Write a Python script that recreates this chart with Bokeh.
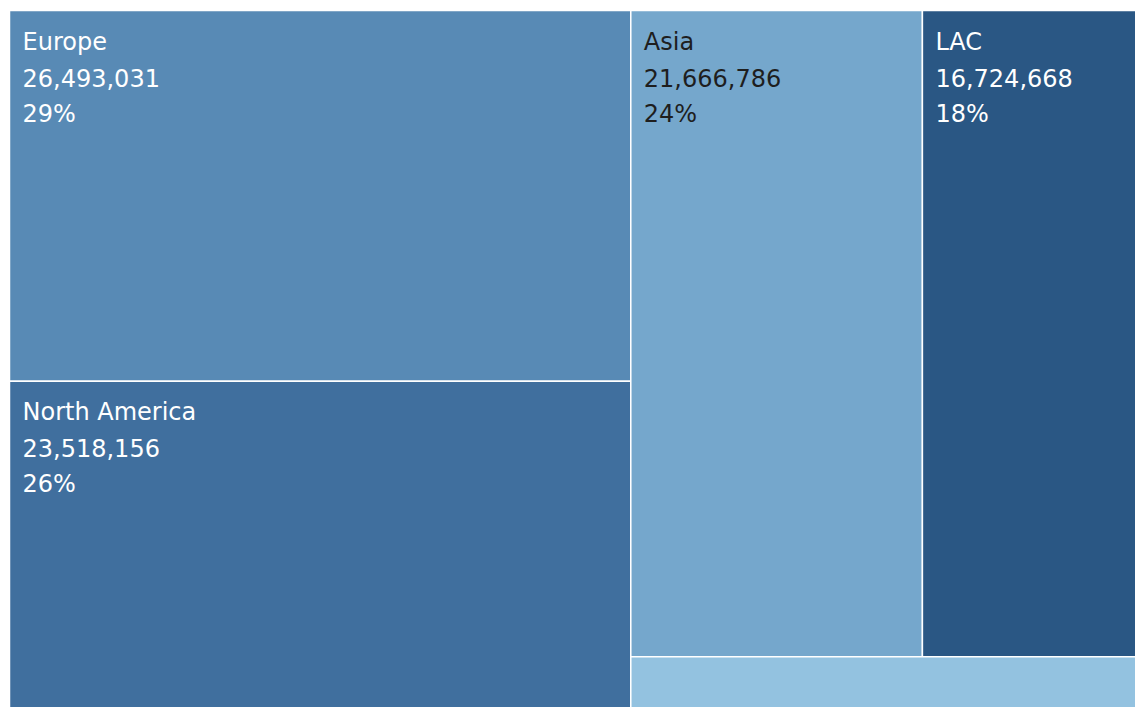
from bokeh.plotting import figure
from bokeh.models import ColumnDataSource, Range1d
from bokeh.embed import file_html
from bokeh.resources import INLINE
from bokeh.core.properties import value

# ---- data ----
regions = ["Europe", "North America", "Asia", "LAC", "Other"]
populations = [26493031, 23518156, 21666786, 16724668, 3200000]
colors = ["#588ab5", "#406f9e", "#75a7cc", "#2a5784", "#93c2e0"]
text_colors = ["#ffffff", "#ffffff", "#1e1e1e", "#ffffff", "#ffffff"]

# ---- treemap layout (slice and dice: two columns) ----
W, H = 1138.0, 700.0
val = dict(zip(regions, populations))
total = float(sum(populations))

left = ["Europe", "North America"]
right_top = ["Asia", "LAC"]
right_bottom = ["Other"]

rects = {}
left_sum = sum(val[r] for r in left)
wl = W * left_sum / total
y = 0.0
for r in left:
    h = H * val[r] / left_sum
    rects[r] = (0.0, wl, y, y + h)
    y += h

right_sum = total - left_sum
top_sum = sum(val[r] for r in right_top)
ht = H * top_sum / right_sum
x = wl
for r in right_top:
    w = (W - wl) * val[r] / top_sum
    rects[r] = (x, x + w, 0.0, ht)
    x += w
x = wl
bot_sum = sum(val[r] for r in right_bottom)
for r in right_bottom:
    w = (W - wl) * val[r] / bot_sum
    rects[r] = (x, x + w, ht, H)
    x += w

src = ColumnDataSource(dict(
    left=[rects[r][0] for r in regions],
    right=[rects[r][1] for r in regions],
    top=[rects[r][2] for r in regions],
    bottom=[rects[r][3] for r in regions],
    color=colors,
))

p = figure(width=1135, height=707, output_backend="svg", toolbar_location=None,
           x_axis_location=None, y_axis_location=None, min_border=0,
           x_range=Range1d(-9, 1126), y_range=Range1d(697, -10))
p.grid.visible = False
p.outline_line_color = None
p.background_fill_color = "white"
p.border_fill_color = "white"

p.quad(left="left", right="right", top="top", bottom="bottom", fill_color="color",
       line_color="white", line_width=1.5, source=src)

# labels
lx, ly, lt, lc, lo = [], [], [], [], []
for r, v, tc in zip(regions, populations, text_colors):
    x0, x1, y0, y1 = rects[r]
    if y1 - y0 < 120:
        continue
    pct = f"{round(100 * v / total):d}%"
    for i, s in enumerate([r, f"{v:,}", pct]):
        lx.append(x0)
        ly.append(y0)
        lt.append(s)
        lc.append(tc)
        lo.append(31 + 36 * i)

lsrc = ColumnDataSource(dict(x=lx, y=ly, text=lt, color=lc, yo=lo))
p.text(x="x", y="y", text="text", text_color="color", source=lsrc,
       x_offset=13, y_offset="yo", text_baseline="middle", text_align="left",
       text_font=value("DejaVu Sans"), text_font_size="24px")

open("out.html", "w").write(file_html(p, INLINE))
